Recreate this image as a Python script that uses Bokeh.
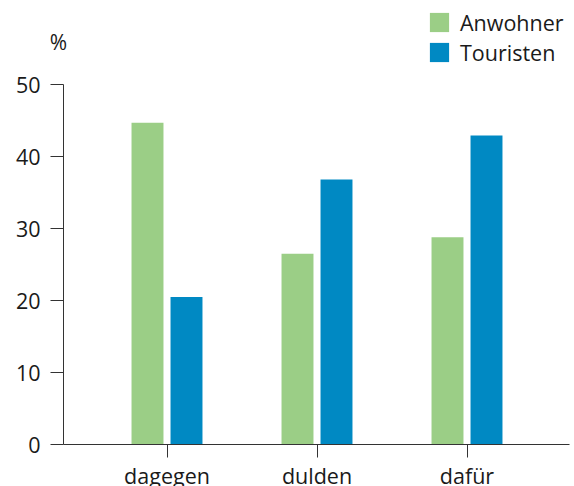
from bokeh.plotting import figure
from bokeh.models import Range1d, FixedTicker, Legend, LegendItem, Label, ColumnDataSource
from bokeh.embed import file_html
from bokeh.resources import INLINE

categories = ["dagegen", "dulden", "dafür"]
anwohner = [44.7, 26.5, 28.8]
touristen = [20.5, 36.8, 42.9]
series_names = ["Anwohner", "Touristen"]
y_ticks = [0, 10, 20, 30, 40, 50]

GREEN = "#9bce86"
BLUE = "#0089c3"
TEXT = "#1a1a1a"
AXIS = "#333333"
FONT = "Open Sans"
FS = "21.5px"

W, H = 574, 486
PX_PER_CAT = 150.0
X0_PX = 166.5          # pixel of first category centre
Y0_PX, PX_PER_UNIT = 444.0, 7.2


def xd(px):
    return 1 + (px - X0_PX) / PX_PER_CAT


def yd(py):
    return (Y0_PX - py) / PX_PER_UNIT


xs = list(range(1, len(categories) + 1))
src = ColumnDataSource(dict(
    xg=[x - 0.13 for x in xs], xb=[x + 0.13 for x in xs],
    a=anwohner, t=touristen))

p = figure(width=W, height=H, output_backend="svg", toolbar_location=None,
           x_range=Range1d(xd(0), xd(W)), y_range=Range1d(yd(H), yd(0)),
           min_border=0)
p.outline_line_color = None
p.grid.visible = False
p.background_fill_color = "white"
p.border_fill_color = "white"

rg = p.vbar(x="xg", top="a", width=0.213, source=src, fill_color=GREEN, line_color=None)
rb = p.vbar(x="xb", top="t", width=0.213, source=src, fill_color=BLUE, line_color=None)

xa = p.xaxis[0]
xa.fixed_location = 0
xa.bounds = (xd(63), xd(569))
xa.ticker = FixedTicker(ticks=xs)
xa.major_label_overrides = {x: c for x, c in zip(xs, categories)}
xa.minor_tick_line_color = None
xa.major_tick_out = 13
xa.major_tick_in = 0
xa.major_label_standoff = 3
xa.axis_line_color = AXIS
xa.major_tick_line_color = AXIS
xa.major_label_text_font = FONT
xa.major_label_text_font_size = FS
xa.major_label_text_color = TEXT

ya = p.yaxis[0]
ya.fixed_location = xd(63)
ya.bounds = (0, 50)
ya.ticker = FixedTicker(ticks=y_ticks)
ya.minor_tick_line_color = None
ya.major_tick_out = 13
ya.major_tick_in = 0
ya.major_label_standoff = 10
ya.axis_line_color = AXIS
ya.major_tick_line_color = AXIS
ya.major_label_text_font = FONT
ya.major_label_text_font_size = FS
ya.major_label_text_color = TEXT

p.add_layout(Label(x=xd(58), y=yd(41), text="%", text_align="center", text_baseline="middle",
                   text_font=FONT, text_font_size="21px", text_color=TEXT))

legend = Legend(items=[LegendItem(label=series_names[0], renderers=[rg]),
                       LegendItem(label=series_names[1], renderers=[rb])],
                location=(427, H - 66.5), orientation="vertical",
                glyph_width=24, glyph_height=24, label_standoff=9, spacing=1,
                padding=0, margin=0, border_line_color=None, background_fill_alpha=0,
                label_text_font=FONT, label_text_font_size=FS, label_text_color=TEXT)
p.add_layout(legend)

open("out.html", "w").write(file_html(p, INLINE))
